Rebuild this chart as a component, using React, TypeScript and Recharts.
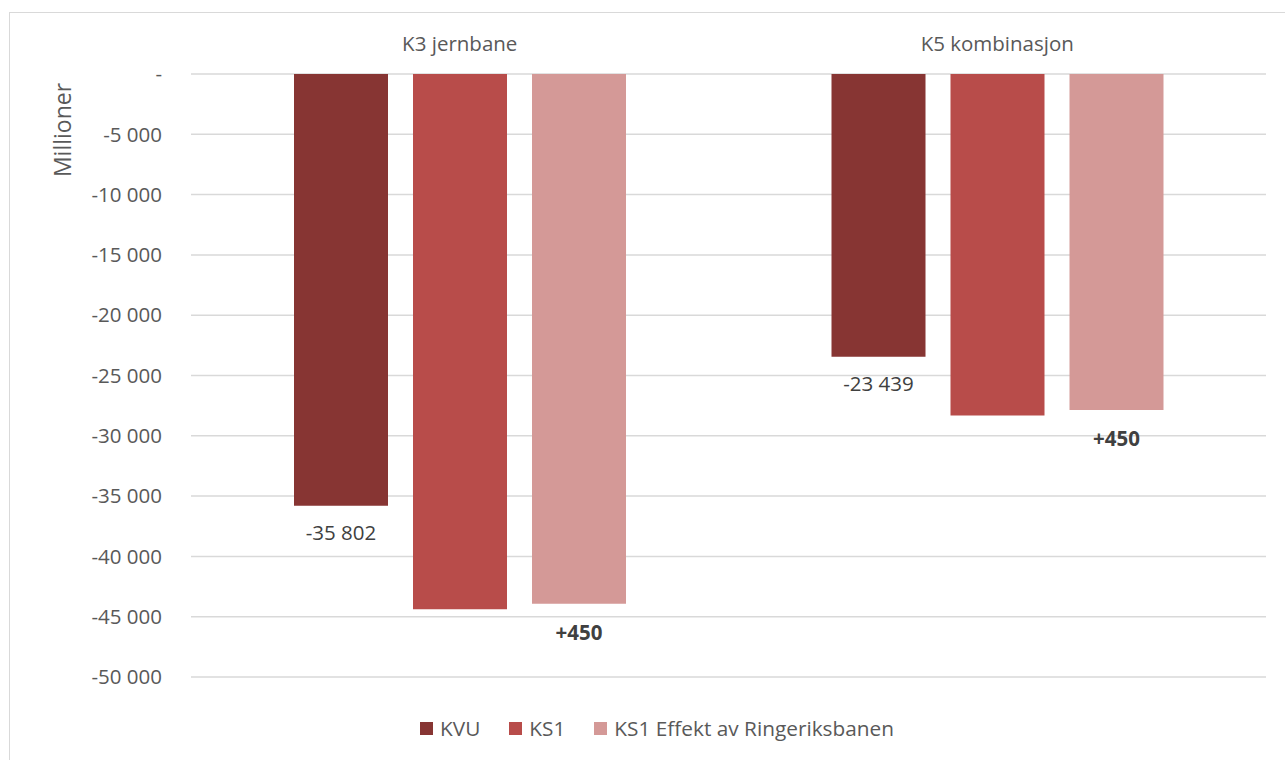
import React from "react";
import { BarChart, Bar, XAxis, YAxis, CartesianGrid, Legend, LabelList } from "recharts";

const categories = ["K3 jernbane", "K5 kombinasjon"];
const kvu = [-35802, -23439];
const ks1 = [-44380, -28320];
const ks1Effekt = [-43930, -27870];
const yTicks = [0, -5000, -10000, -15000, -20000, -25000, -30000, -35000, -40000, -45000, -50000];

const seriesNames = ["KVU", "KS1", "KS1 Effekt av Ringeriksbanen"];
const colors = ["#873533", "#B84C4A", "#D49997"];

const data = categories.map((name, i) => ({
  name,
  kvu: kvu[i],
  ks1: ks1[i],
  effekt: ks1Effekt[i],
}));

const FONT = "'Open Sans', sans-serif";

const fmt = (v: number) => {
  if (v === 0) return "-";
  const s = Math.abs(Math.round(v)).toString().replace(/\B(?=(\d{3})+(?!\d))/g, " ");
  return (v < 0 ? "-" : "+") + s;
};

const barBottom = (p: any) => {
  const vb = p.viewBox || p;
  const y = Number(vb.y);
  const h = Number(vb.height);
  return { cx: Number(vb.x) + Number(vb.width) / 2, bottom: Math.max(y, y + h) };
};

const KvuLabel = (p: any) => {
  const { cx, bottom } = barBottom(p);
  return (
    <text x={cx} y={bottom + 34} textAnchor="middle" fill="#404040" fontSize={20.5} fontFamily={FONT}>
      {fmt(kvu[p.index])}
    </text>
  );
};

const EffektLabel = (p: any) => {
  const { cx, bottom } = barBottom(p);
  return (
    <text x={cx} y={bottom + 36} textAnchor="middle" fill="#404040" fontSize={20.5} fontWeight="bold" fontFamily={FONT}>
      {fmt(ks1Effekt[p.index] - ks1[p.index])}
    </text>
  );
};

const CategoryTick = ({ x, y, payload }: any) => (
  <text x={x} y={y - 23} textAnchor="middle" fill="#595959" fontSize={20.5} fontFamily={FONT}>
    {payload.value}
  </text>
);

const LegendContent = () => (
  <div style={{ display: "flex", alignItems: "center", fontFamily: FONT, fontSize: 20.8, color: "#595959" }}>
    {seriesNames.map((n, i) => (
      <div key={n} style={{ display: "flex", alignItems: "center", marginRight: 29 }}>
        <span style={{ width: 13, height: 13, background: colors[i], display: "inline-block", marginRight: 7 }} />
        <span>{n}</span>
      </div>
    ))}
  </div>
);

export default function App() {
  return (
    <div style={{ position: "relative", width: 1285, height: 760, overflow: "hidden", background: "#fff" }}>
      <style>{`body{margin:0;}`}</style>
      <div
        style={{
          position: "absolute",
          left: 9,
          top: 12,
          width: 1300,
          height: 800,
          border: "1.5px solid #d9d9d9",
        }}
      />
      <div style={{ position: "absolute", left: 0, top: 0 }}>
        <BarChart
          width={1285}
          height={760}
          data={data}
          margin={{ top: 20, right: 19, left: 0, bottom: 55 }}
          barSize={94}
          barGap={25}
        >
          <CartesianGrid vertical={false} stroke="#d9d9d9" strokeWidth={1.5} />
          <XAxis
            dataKey="name"
            orientation="top"
            height={54}
            axisLine={false}
            tickLine={false}
            tickSize={0}
            tickMargin={0}
            tick={<CategoryTick />}
          />
          <YAxis
            domain={[-50000, 0]}
            ticks={yTicks}
            interval={0}
            width={191}
            axisLine={false}
            tickLine={false}
            tickSize={0}
            tickMargin={29}
            tickFormatter={fmt}
            tick={{ fill: "#595959", fontSize: 20.5, fontFamily: FONT }}
            label={{
              content: () => (
                <text
                  x={62}
                  y={130}
                  transform="rotate(-90 62 130)"
                  textAnchor="middle"
                  dominantBaseline="central"
                  fill="#595959"
                  fontSize={23}
                  fontFamily={FONT}
                >
                  Millioner
                </text>
              ),
            }}
          />
          <Legend
            content={<LegendContent />}
            verticalAlign="bottom"
            wrapperStyle={{ top: 714, left: 420, width: "auto" }}
          />
          <Bar dataKey="kvu" name={seriesNames[0]} fill={colors[0]} isAnimationActive={false}>
            <LabelList dataKey="kvu" content={<KvuLabel />} />
          </Bar>
          <Bar dataKey="ks1" name={seriesNames[1]} fill={colors[1]} isAnimationActive={false} />
          <Bar dataKey="effekt" name={seriesNames[2]} fill={colors[2]} isAnimationActive={false}>
            <LabelList dataKey="effekt" content={<EffektLabel />} />
          </Bar>
        </BarChart>
      </div>
    </div>
  );
}
